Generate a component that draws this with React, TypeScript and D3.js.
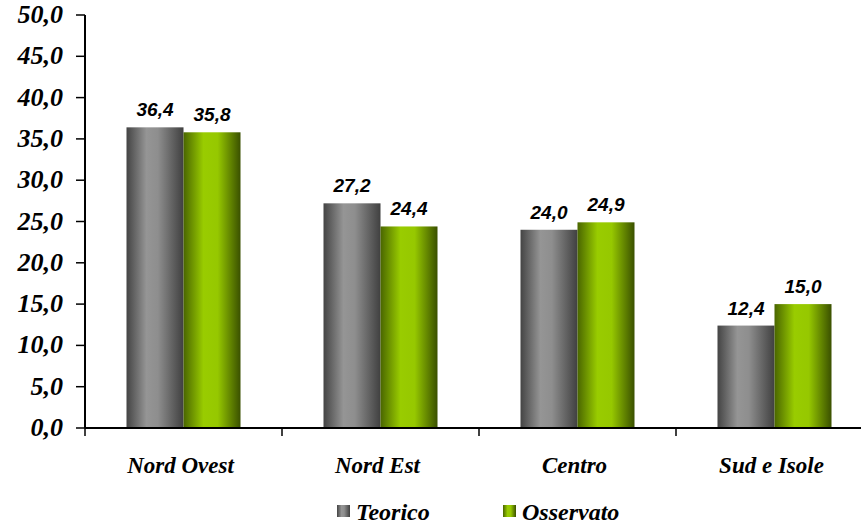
import React from "react";
import * as d3 from "d3";

const categories = ["Nord Ovest", "Nord Est", "Centro", "Sud e Isole"];
const seriesNames = ["Teorico", "Osservato"];
const teorico = [36.4, 27.2, 24.0, 12.4];
const osservato = [35.8, 24.4, 24.9, 15.0];
const yTicks = [0, 5, 10, 15, 20, 25, 30, 35, 40, 45, 50];

const W = 861;
const H = 525;
const fmt = (v: number) => v.toFixed(1).replace(".", ",");
const SERIF = "'Liberation Serif', 'Times New Roman', Times, serif";
const SANS = "'Liberation Sans', Arial, sans-serif";

export default function App() {
  const x0 = 85;
  const x1 = 873;
  const x = d3.scaleBand<string>().domain(categories).range([x0, x1]).paddingInner(0).paddingOuter(0);
  const y = d3.scaleLinear().domain([0, 50]).range([428, 15]);
  const barW = 57;
  const series = [teorico, osservato];
  const fills = ["url(#gGray)", "url(#gGreen)"];

  return (
    <svg width={W} height={H} style={{ position: "absolute", left: 0, top: 0 }}>
      <defs>
        <linearGradient id="gGray" x1="0" x2="1" y1="0" y2="0">
          <stop offset="0" stopColor="#444444" />
          <stop offset="0.35" stopColor="#959595" />
          <stop offset="0.55" stopColor="#8e8e8e" />
          <stop offset="1" stopColor="#404040" />
        </linearGradient>
        <linearGradient id="gGreen" x1="0" x2="1" y1="0" y2="0">
          <stop offset="0" stopColor="#4a6600" />
          <stop offset="0.35" stopColor="#99cc00" />
          <stop offset="0.6" stopColor="#96c800" />
          <stop offset="1" stopColor="#3a5000" />
        </linearGradient>
      </defs>
      <rect x={0} y={0} width={W} height={H} fill="#ffffff" />
      {categories.map((c, i) => {
        const cx = (x(c) as number) + x.bandwidth() / 2;
        return series.map((s, k) => {
          const bx = cx - barW + k * barW;
          const v = s[i];
          return (
            <g key={c + k}>
              <rect x={bx} y={y(v)} width={barW} height={y(0) - y(v)} fill={fills[k]} />
              <text
                x={bx + barW / 2}
                y={y(v) - 11}
                textAnchor="middle"
                style={{ fontFamily: SANS, fontWeight: "bold", fontStyle: "italic", fontSize: 19 }}
                fill="#000"
              >
                {fmt(v)}
              </text>
            </g>
          );
        });
      })}
      {/* y axis */}
      <line x1={x0} x2={x0} y1={y(50)} y2={y(0)} stroke="#000" strokeWidth={2} />
      {yTicks.map((t) => (
        <g key={t}>
          <line x1={x0 - 9} x2={x0} y1={y(t)} y2={y(t)} stroke="#000" strokeWidth={1.5} />
          <text
            x={63}
            y={y(t) + 8}
            textAnchor="end"
            style={{ fontFamily: SERIF, fontWeight: "bold", fontStyle: "italic", fontSize: 26 }}
            fill="#000"
          >
            {fmt(t)}
          </text>
        </g>
      ))}
      {/* x axis */}
      <line x1={x0} x2={W} y1={y(0)} y2={y(0)} stroke="#000" strokeWidth={2} />
      {categories.map((c) => (
        <line key={c} x1={x(c) as number} x2={x(c) as number} y1={y(0)} y2={y(0) + 8} stroke="#000" strokeWidth={1.5} />
      ))}
      {categories.map((c) => (
        <text
          key={c}
          x={(x(c) as number) + x.bandwidth() / 2 - 3}
          y={473}
          textAnchor="middle"
          style={{ fontFamily: SERIF, fontWeight: "bold", fontStyle: "italic", fontSize: 23 }}
          fill="#000"
        >
          {c}
        </text>
      ))}
      {/* legend */}
      {seriesNames.map((n, k) => {
        const lx = [337, 503][k];
        return (
          <g key={n}>
            <rect x={lx} y={505} width={13} height={12} fill={fills[k]} />
            <text
              x={lx + 19}
              y={520}
              style={{ fontFamily: SERIF, fontWeight: "bold", fontStyle: "italic", fontSize: 24 }}
              fill="#000"
            >
              {n}
            </text>
          </g>
        );
      })}
    </svg>
  );
}
